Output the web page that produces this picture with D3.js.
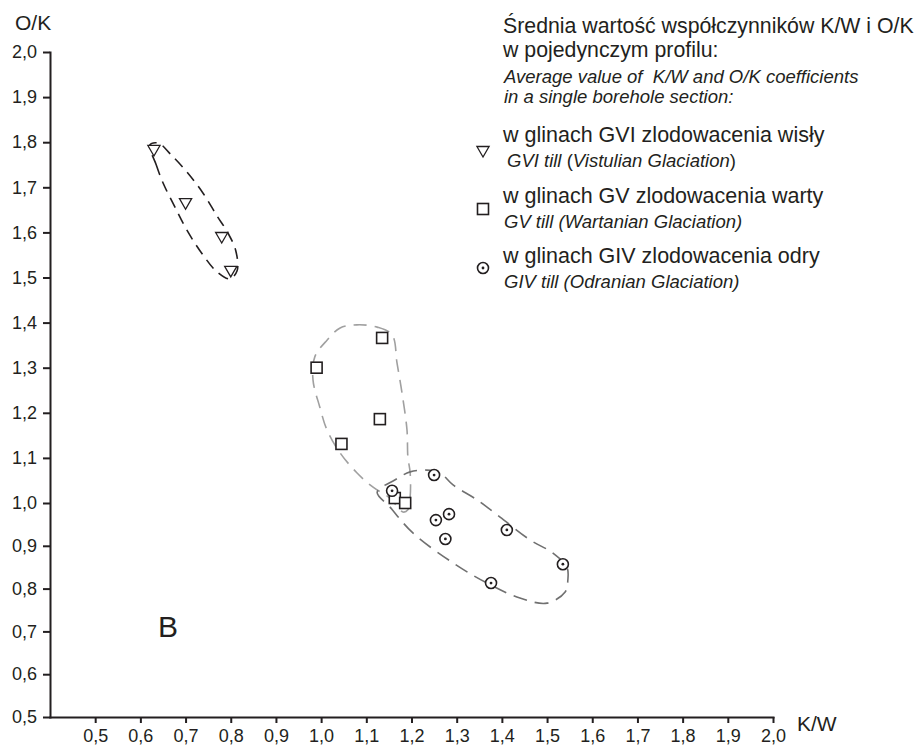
<!DOCTYPE html>
<html lang="pl">
<head>
    <meta charset="UTF-8">
    <title>K/W i O/K</title>
    <script src="https://d3js.org/d3.v7.min.js"></script>
    <style>
        body { margin: 0; background: #fff; }
        svg text { font-family: "Liberation Sans", Arial, sans-serif; fill: #231f20; white-space: pre; }
        .axis path, .axis line { stroke: #231f20; stroke-width: 2; }
        .axis text { font-size: 18px; }
        .envelope { fill: none; stroke-width: 1.6; }
        .marker { fill: #fff; stroke: #231f20; stroke-width: 1.6; }
    </style>
</head>
<body>
<script>
    // ticks
    const xTicks = [0.5, 0.6, 0.7, 0.8, 0.9, 1.0, 1.1, 1.2, 1.3, 1.4, 1.5, 1.6, 1.7, 1.8, 1.9, 2.0];
    const yTicks = [0.5, 0.6, 0.7, 0.8, 0.9, 1.0, 1.1, 1.2, 1.3, 1.4, 1.5, 1.6, 1.7, 1.8, 1.9, 2.0];

    // GVI till (Vistulian) - triangles
    const gviKW = [0.63, 0.70, 0.78, 0.80];
    const gviOK = [1.785, 1.667, 1.592, 1.517];
    // GV till (Wartanian) - squares
    const gvKW = [1.135, 0.99, 1.13, 1.045, 1.163, 1.186];
    const gvOK = [1.366, 1.30, 1.186, 1.131, 1.011, 1.0];
    // GIV till (Odranian) - dotted circles
    const givKW = [1.157, 1.25, 1.254, 1.283, 1.275, 1.411, 1.535, 1.376];
    const givOK = [1.027, 1.062, 0.96, 0.974, 0.916, 0.937, 0.857, 0.813];

    // hand drawn envelopes (K/W, O/K)
    const gviEnvelope = [[0.621, 1.794], [0.635, 1.750], [0.650, 1.710], [0.676, 1.657], [0.703, 1.605],
        [0.735, 1.555], [0.770, 1.512], [0.798, 1.497], [0.814, 1.515], [0.811, 1.560], [0.793, 1.600],
        [0.770, 1.636], [0.738, 1.688], [0.703, 1.734], [0.668, 1.772], [0.640, 1.798]];
    const gvEnvelope = [[1.079, 1.395], [1.124, 1.390], [1.157, 1.373], [1.168, 1.310], [1.179, 1.244],
        [1.190, 1.162], [1.192, 1.102], [1.197, 1.067], [1.197, 1.013], [1.192, 0.984], [1.181, 0.979],
        [1.152, 1.011], [1.115, 1.035], [1.079, 1.067], [1.042, 1.111], [1.013, 1.162], [0.997, 1.213],
        [0.982, 1.273], [0.986, 1.324], [1.013, 1.361], [1.042, 1.388]];
    const givEnvelope = [[1.124, 1.024], [1.152, 0.991], [1.203, 0.930], [1.292, 0.860], [1.367, 0.813],
        [1.440, 0.778], [1.500, 0.766], [1.540, 0.792], [1.546, 0.820], [1.544, 0.850], [1.513, 0.883],
        [1.462, 0.914], [1.396, 0.967], [1.345, 1.007], [1.292, 1.040], [1.263, 1.067], [1.234, 1.073],
        [1.197, 1.069], [1.163, 1.051]];

    // legend texts
    const legendTitle = ["Średnia wartość współczynników K/W i O/K", "w pojedynczym profilu:"];
    const legendSubtitle = ["Average value of  K/W and O/K coefficients", "in a single borehole section:"];
    const legendPl = ["w glinach GVI zlodowacenia wisły", "w glinach GV zlodowacenia warty", "w glinach GIV zlodowacenia odry"];
    const legendEn = ["GVI till (Vistulian Glaciation)", "GV till (Wartanian Glaciation)", "GIV till (Odranian Glaciation)"];

    const width = 918, height = 747;
    const svg = d3.select("body").append("svg")
        .attr("width", width)
        .attr("height", height);

    const x = d3.scaleLinear().domain([0.4, 2.0]).range([50, 773]);
    // the printed axis is not quite even, follow it
    const y = d3.scaleLinear().domain([0.5, 1.0, 2.0]).range([717, 503, 52]);

    const fmt = d => d.toFixed(1).replace(".", ",");

    svg.append("g")
        .attr("class", "axis")
        .attr("transform", `translate(0,${y(0.5)})`)
        .call(d3.axisBottom(x).tickValues(xTicks).tickSize(6).tickSizeOuter(0).tickPadding(6).tickFormat(fmt));

    svg.append("g")
        .attr("class", "axis")
        .attr("transform", `translate(${x(0.4)},0)`)
        .call(d3.axisLeft(y).tickValues(yTicks).tickSize(7).tickSizeOuter(0).tickPadding(6).tickFormat(fmt));

    svg.selectAll(".axis .domain").attr("stroke-linecap", "square");

    // axis titles
    svg.append("text").attr("x", 15).attr("y", 30).style("font-size", "21px").text("O/K");
    svg.append("text").attr("x", 797).attr("y", 731).style("font-size", "21px").text("K/W");
    svg.append("text").attr("x", 158).attr("y", 637).style("font-size", "30px").text("B");

    // envelopes
    const hull = d3.line().x(d => x(d[0])).y(d => y(d[1])).curve(d3.curveCatmullRomClosed);
    svg.append("path").attr("class", "envelope").attr("d", hull(gviEnvelope))
        .attr("stroke", "#231f20").attr("stroke-dasharray", "11,7");
    svg.append("path").attr("class", "envelope").attr("d", hull(gvEnvelope))
        .attr("stroke", "#a0a0a0").attr("stroke-dasharray", "13,8");
    svg.append("path").attr("class", "envelope").attr("d", hull(givEnvelope))
        .attr("stroke", "#707070").attr("stroke-dasharray", "14,8");

    // markers
    const tri = d3.symbol().type(d3.symbolTriangle).size(64);
    function drawTri(g, cx, cy) {
        g.append("path").attr("class", "marker").attr("d", tri())
            .attr("transform", `translate(${cx},${cy}) rotate(180)`).style("stroke-width", 1.3);
    }
    function drawSq(g, cx, cy) {
        g.append("rect").attr("class", "marker")
            .attr("x", cx - 5.5).attr("y", cy - 5.5).attr("width", 11).attr("height", 11);
    }
    function drawCirc(g, cx, cy) {
        g.append("circle").attr("class", "marker").attr("cx", cx).attr("cy", cy).attr("r", 5.5);
        g.append("circle").attr("cx", cx).attr("cy", cy).attr("r", 1.4).attr("fill", "#231f20");
    }

    const pts = svg.append("g");
    gviKW.forEach((v, i) => drawTri(pts, x(v), y(gviOK[i])));
    gvKW.forEach((v, i) => drawSq(pts, x(v), y(gvOK[i])));
    givKW.forEach((v, i) => drawCirc(pts, x(v), y(givOK[i])));

    // legend
    const lg = svg.append("g");
    legendTitle.forEach((t, i) => {
        lg.append("text").attr("x", 503).attr("y", 33 + i * 24).style("font-size", "21.3px").text(t);
    });
    legendSubtitle.forEach((t, i) => {
        lg.append("text").attr("x", 504).attr("y", 83 + i * 20).style("font-size", "18.5px")
            .style("font-style", "italic").text(t);
    });
    const entryY = [142, 203, 263];
    const drawers = [drawTri, drawSq, drawCirc];
    const markerDy = [8, 6, 5];
    legendPl.forEach((t, i) => {
        lg.append("text").attr("x", 503).attr("y", entryY[i]).style("font-size", "21.5px").text(t);
        const en = lg.append("text").attr("x", i === 0 ? 507 : 504).attr("y", entryY[i] + 25)
            .style("font-size", "18.5px").style("font-style", "italic");
        if (i === 0) {
            en.append("tspan").text("GVI till ");
            en.append("tspan").style("font-style", "normal").text("(");
            en.append("tspan").text("Vistulian Glaciation");
            en.append("tspan").style("font-style", "normal").text(")");
        } else {
            en.text(legendEn[i]);
        }
        drawers[i](lg, 483, entryY[i] + markerDy[i]);
    });
</script>
</body>
</html>
